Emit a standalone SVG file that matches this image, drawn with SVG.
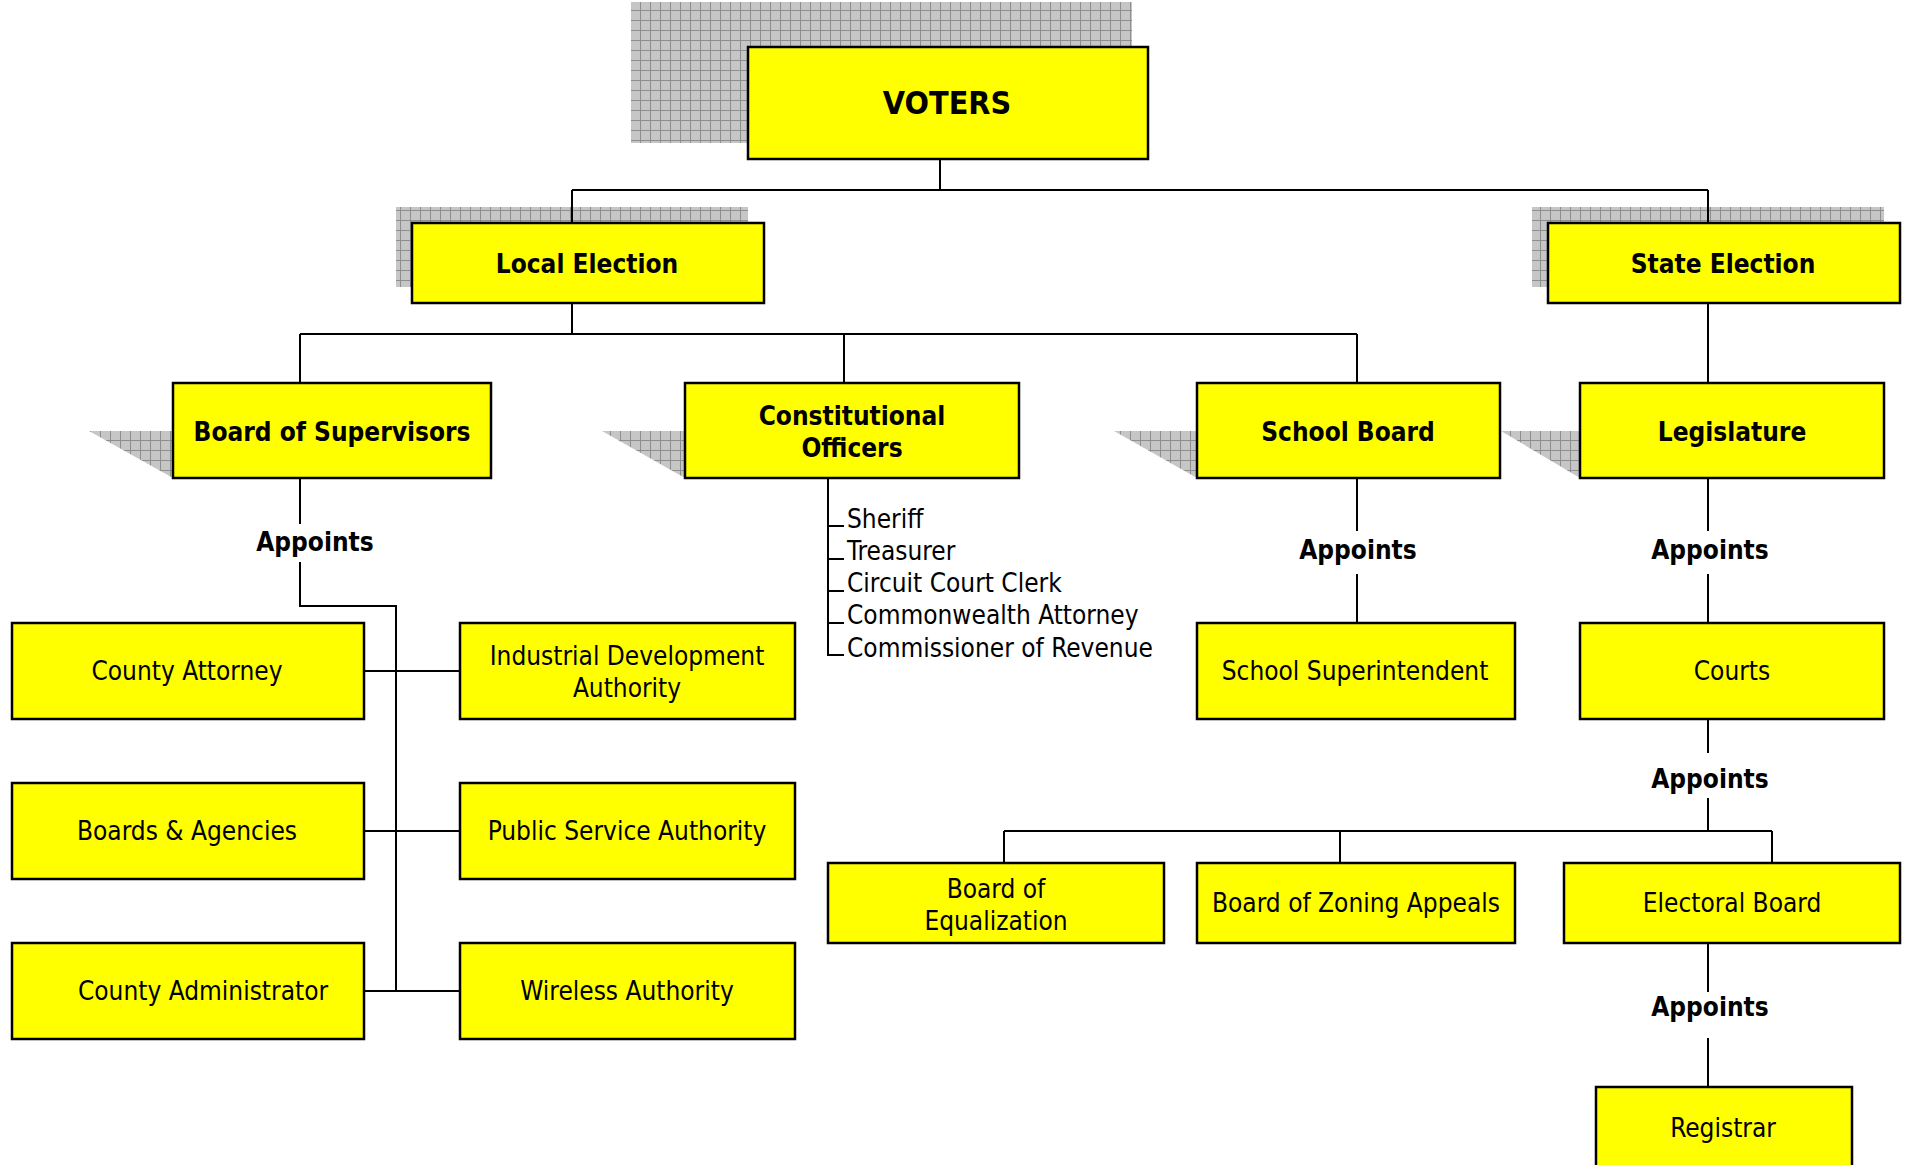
<svg xmlns="http://www.w3.org/2000/svg" width="1907" height="1165" viewBox="0 0 1907 1165">
<style>
.box{fill:#ffff00;stroke:#000;stroke-width:2.5}
.c{stroke:#000;stroke-width:2;fill:none}
.sh{fill:url(#grid)}
text{font-family:"DejaVu Sans Condensed","DejaVu Sans",sans-serif;font-stretch:condensed;font-size:26px;fill:#000;text-anchor:middle}
.b{font-weight:bold}
.v{font-size:32px}
.l{text-anchor:start}
</style>
<defs>
<pattern id="grid" width="10" height="10" patternUnits="userSpaceOnUse">
<rect width="10" height="10" fill="#c6c6c6"/>
<path d="M0 0.5H10M0.5 0V10" stroke="#8e8e8e" stroke-width="1"/>
</pattern>
</defs>
<g id="shadows">
<rect class="sh" x="631" y="2" width="501" height="141"/>
<rect class="sh" x="396" y="207" width="352" height="80"/>
<rect class="sh" x="1532" y="207" width="352" height="80"/>
<polygon class="sh" points="89,431 173,431 173,478"/>
<polygon class="sh" points="602,431 685,431 685,478"/>
<polygon class="sh" points="1114,431 1197,431 1197,478"/>
<polygon class="sh" points="1501,431 1580,431 1580,478"/>
</g>
<g id="connectors">
<path class="c" d="M940 159V190M572 190H1708M572 190V223M1708 190V223"/>
<path class="c" d="M572 303V334M300 334H1357M300 334V383M844 334V383M1357 334V383"/>
<path class="c" d="M1708 303V383"/>
<path class="c" d="M300 478V524M300 562V606H396V991M364 671H460M364 831H460M364 991H460"/>
<path class="c" d="M828 478V655H844M828 526H844M828 559H844M828 591H844M828 623H844"/>
<path class="c" d="M1357 478V531M1357 574V623"/>
<path class="c" d="M1708 478V531M1708 574V623"/>
<path class="c" d="M1708 719V753M1708 798V831M1004 831H1772M1004 831V863M1340 831V863M1772 831V863"/>
<path class="c" d="M1708 943V992M1708 1038V1087"/>
<text class="b" x="315" y="551">Appoints</text>
<text class="b" x="1358" y="559">Appoints</text>
<text class="b" x="1710" y="559">Appoints</text>
<text class="b" x="1710" y="788">Appoints</text>
<text class="b" x="1710" y="1016">Appoints</text>
</g>
<g id="voters"><rect class="box" x="748" y="47" width="400" height="112"/><text class="b v" x="947" y="114">VOTERS</text></g>
<g id="local-election"><rect class="box" x="412" y="223" width="352" height="80"/><text class="b" x="587" y="273">Local Election</text></g>
<g id="state-election"><rect class="box" x="1548" y="223" width="352" height="80"/><text class="b" x="1723" y="273">State Election</text></g>
<g id="board-of-supervisors"><rect class="box" x="173" y="383" width="318" height="95"/><text class="b" x="332" y="441">Board of Supervisors</text></g>
<g id="constitutional-officers"><rect class="box" x="685" y="383" width="334" height="95"/><text class="b" x="852" y="425">Constitutional</text><text class="b" x="852" y="457">Officers</text></g>
<g id="officers-list">
<text class="l" x="847" y="528">Sheriff</text>
<text class="l" x="847" y="560">Treasurer</text>
<text class="l" x="847" y="592">Circuit Court Clerk</text>
<text class="l" x="847" y="624">Commonwealth Attorney</text>
<text class="l" x="847" y="657">Commissioner of Revenue</text>
</g>
<g id="school-board"><rect class="box" x="1197" y="383" width="303" height="95"/><text class="b" x="1348" y="441">School Board</text></g>
<g id="legislature"><rect class="box" x="1580" y="383" width="304" height="95"/><text class="b" x="1732" y="441">Legislature</text></g>
<g id="county-attorney"><rect class="box" x="12" y="623" width="352" height="96"/><text x="187" y="680">County Attorney</text></g>
<g id="boards-agencies"><rect class="box" x="12" y="783" width="352" height="96"/><text x="187" y="840">Boards &amp; Agencies</text></g>
<g id="county-administrator"><rect class="box" x="12" y="943" width="352" height="96"/><text x="203" y="1000">County Administrator</text></g>
<g id="ida"><rect class="box" x="460" y="623" width="335" height="96"/><text x="627" y="665">Industrial Development</text><text x="627" y="697">Authority</text></g>
<g id="psa"><rect class="box" x="460" y="783" width="335" height="96"/><text x="627" y="840">Public Service Authority</text></g>
<g id="wireless"><rect class="box" x="460" y="943" width="335" height="96"/><text x="627" y="1000">Wireless Authority</text></g>
<g id="school-superintendent"><rect class="box" x="1197" y="623" width="318" height="96"/><text x="1355" y="680">School Superintendent</text></g>
<g id="courts"><rect class="box" x="1580" y="623" width="304" height="96"/><text x="1732" y="680">Courts</text></g>
<g id="board-of-equalization"><rect class="box" x="828" y="863" width="336" height="80"/><text x="996" y="898">Board of</text><text x="996" y="930">Equalization</text></g>
<g id="board-of-zoning-appeals"><rect class="box" x="1197" y="863" width="318" height="80"/><text x="1356" y="912">Board of Zoning Appeals</text></g>
<g id="electoral-board"><rect class="box" x="1564" y="863" width="336" height="80"/><text x="1732" y="912">Electoral Board</text></g>
<g id="registrar"><rect class="box" x="1596" y="1087" width="256" height="100"/><text x="1723" y="1137">Registrar</text></g>
</svg>
